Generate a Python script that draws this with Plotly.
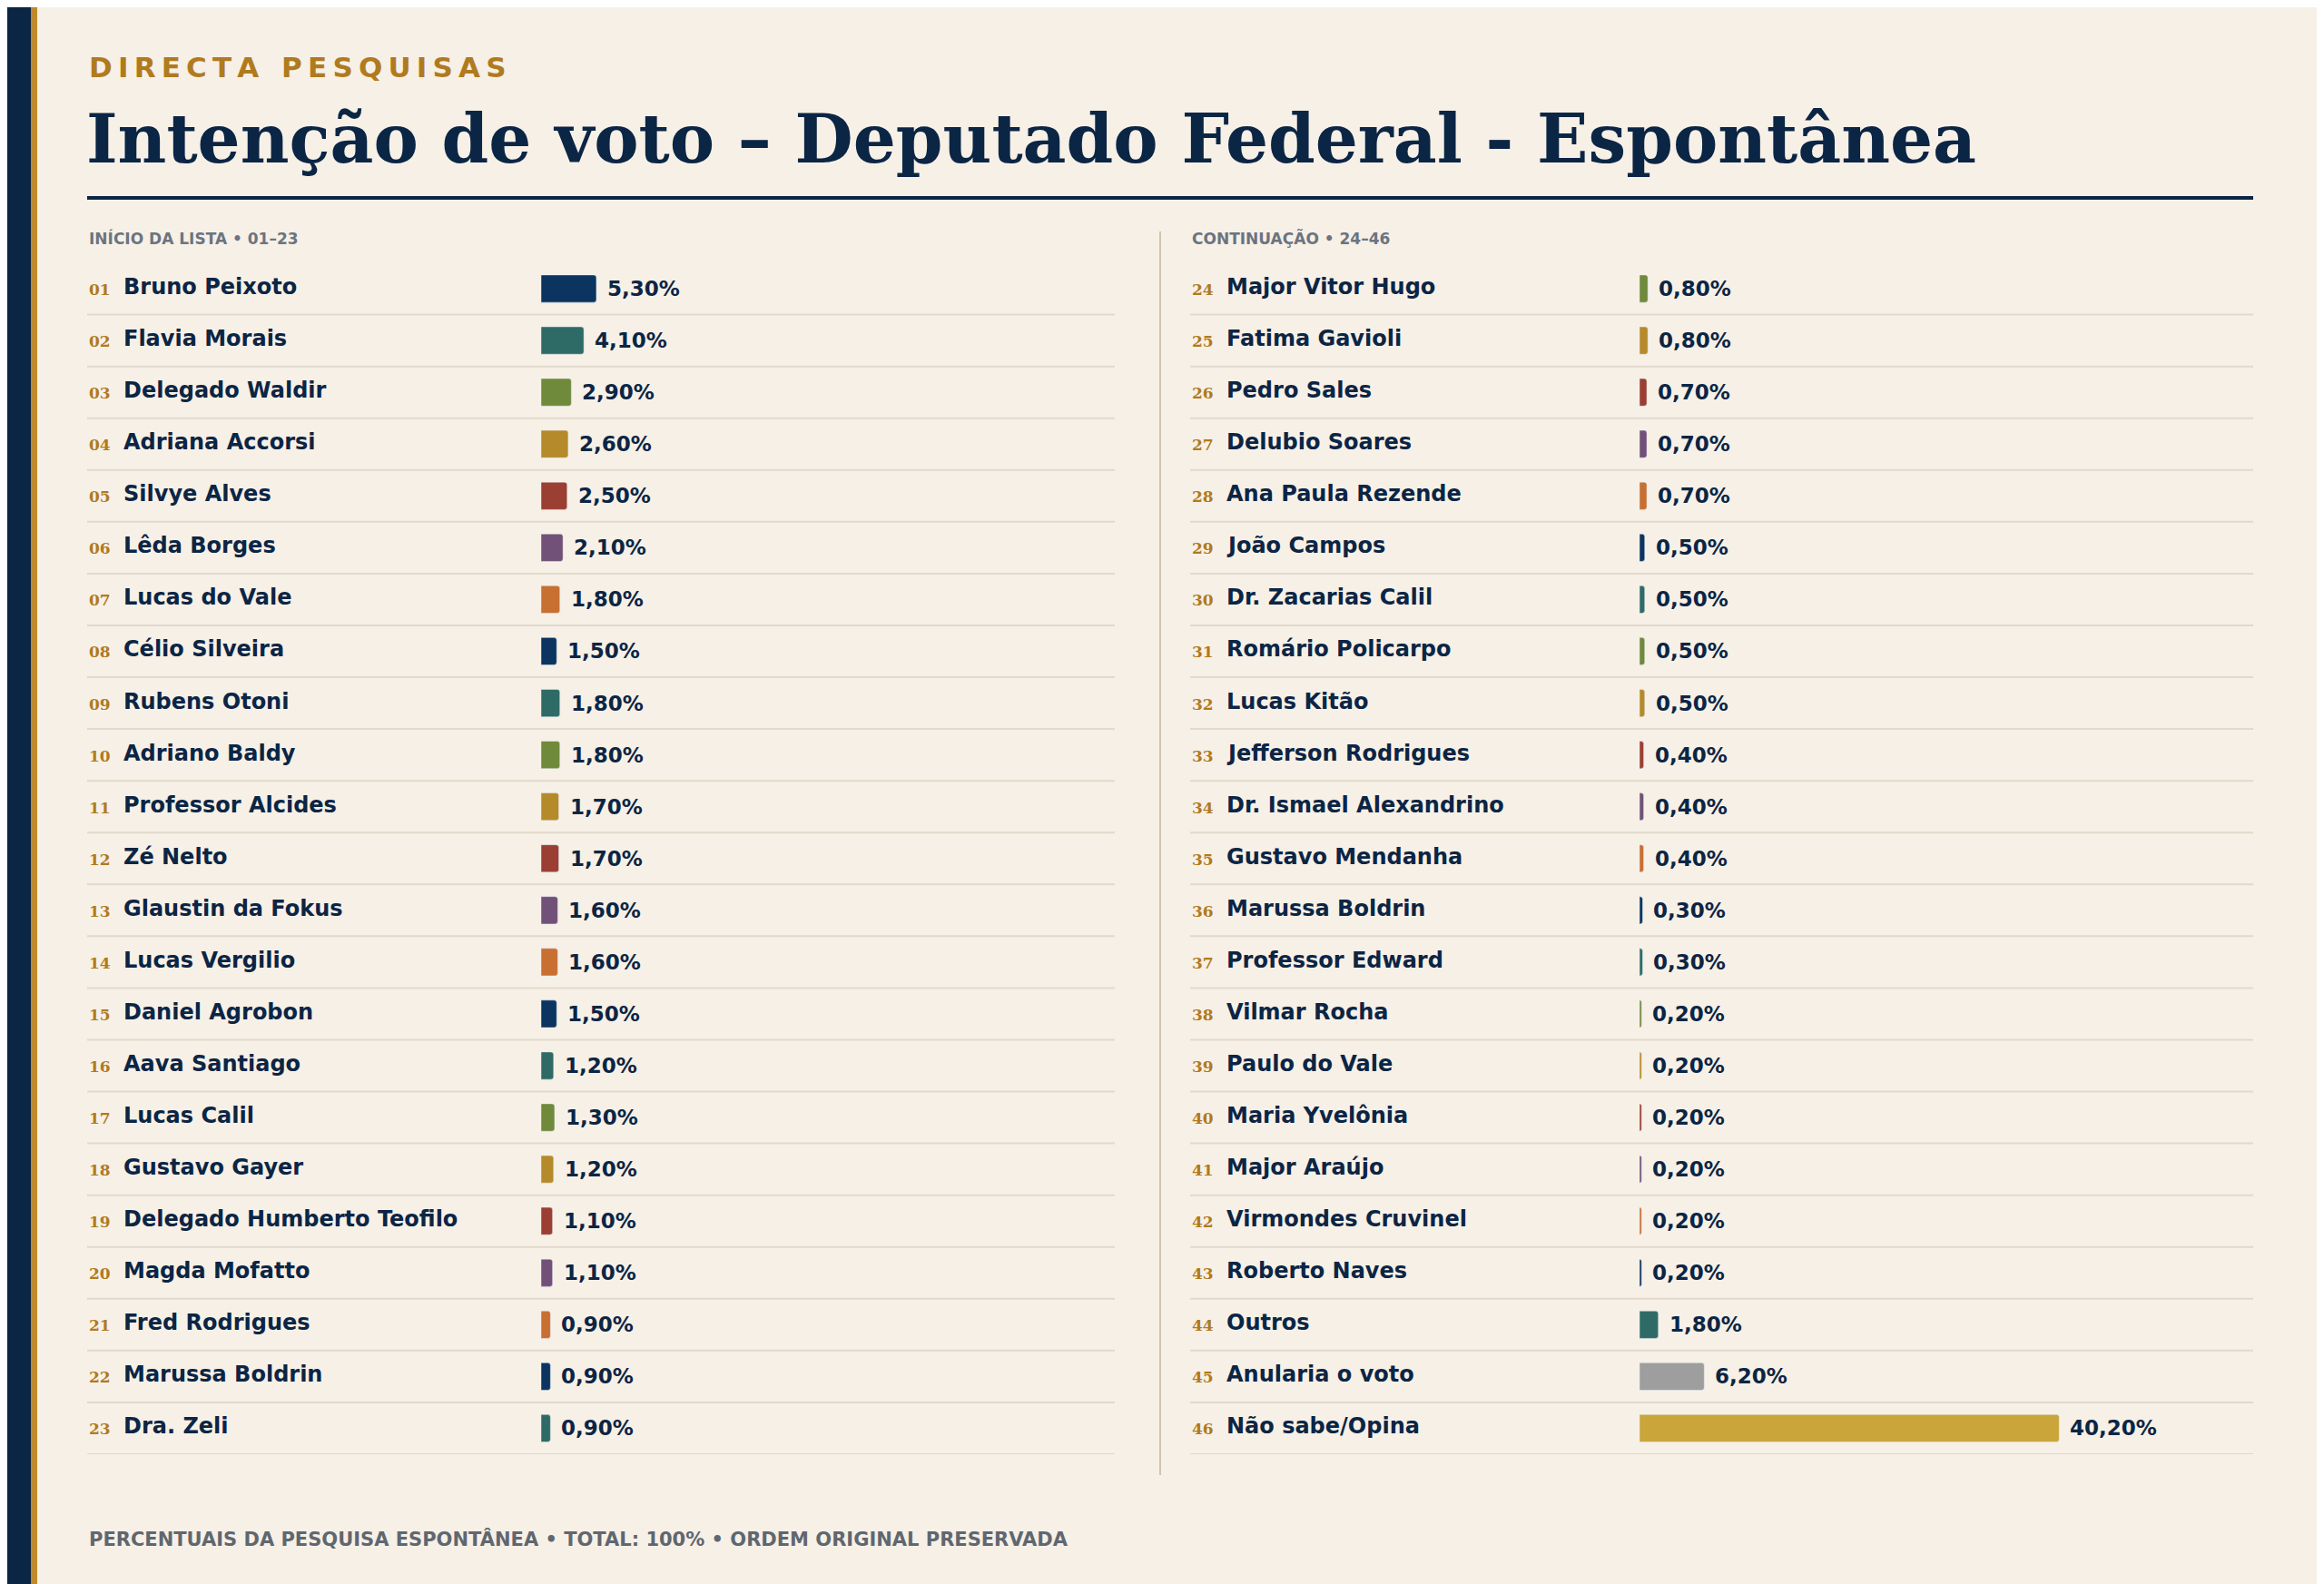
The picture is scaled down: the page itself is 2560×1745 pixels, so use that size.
import plotly.graph_objects as go

W, H = 2560, 1745

left_names = ["Bruno Peixoto", "Flavia Morais", "Delegado Waldir", "Adriana Accorsi", "Silvye Alves",
              "Lêda Borges", "Lucas do Vale", "Célio Silveira", "Rubens Otoni", "Adriano Baldy",
              "Professor Alcides", "Zé Nelto", "Glaustin da Fokus", "Lucas Vergilio", "Daniel Agrobon",
              "Aava Santiago", "Lucas Calil", "Gustavo Gayer", "Delegado Humberto Teofilo", "Magda Mofatto",
              "Fred Rodrigues", "Marussa Boldrin", "Dra. Zeli"]
left_vals = [5.3, 4.1, 2.9, 2.6, 2.5, 2.1, 1.8, 1.5, 1.8, 1.8, 1.7, 1.7, 1.6, 1.6, 1.5,
             1.2, 1.3, 1.2, 1.1, 1.1, 0.9, 0.9, 0.9]
right_names = ["Major Vitor Hugo", "Fatima Gavioli", "Pedro Sales", "Delubio Soares", "Ana Paula Rezende",
               "João Campos", "Dr. Zacarias Calil", "Romário Policarpo", "Lucas Kitão", "Jefferson Rodrigues",
               "Dr. Ismael Alexandrino", "Gustavo Mendanha", "Marussa Boldrin", "Professor Edward",
               "Vilmar Rocha", "Paulo do Vale", "Maria Yvelônia", "Major Araújo", "Virmondes Cruvinel",
               "Roberto Naves", "Outros", "Anularia o voto", "Não sabe/Opina"]
right_vals = [0.8, 0.8, 0.7, 0.7, 0.7, 0.5, 0.5, 0.5, 0.5, 0.4, 0.4, 0.4, 0.3, 0.3,
              0.2, 0.2, 0.2, 0.2, 0.2, 0.2, 1.8, 6.2, 40.2]

palette = ["#0b3560", "#2f6b66", "#6f8a3a", "#b58a2a", "#9b3f33", "#715177", "#c86f32"]
NAVY = "#0b2545"
GOLD = "#b07a1e"
BG = "#f7f0e6"


def colors_for(start, n):
    cols = [palette[(start + i) % 7] for i in range(n)]
    return cols


left_cols = colors_for(0, 23)
right_cols = colors_for(23, 23)
right_cols[21] = "#9e9e9e"
right_cols[22] = "#c9a53a"

rows = list(range(23))
fig = go.Figure()
fig.add_trace(go.Bar(x=left_vals, y=rows, orientation="h", width=0.53,
                     marker=dict(color=left_cols, cornerradius=3), xaxis="x", yaxis="y",
                     hoverinfo="skip"))
fig.add_trace(go.Bar(x=right_vals, y=rows, orientation="h", width=0.53,
                     marker=dict(color=right_cols, cornerradius=3), xaxis="x2", yaxis="y2",
                     hoverinfo="skip"))

top, bottom = 281.5, 1594
ydom = [1 - bottom / H, 1 - top / H]
ax = dict(showgrid=False, zeroline=False, showticklabels=False, fixedrange=True)
fig.update_layout(
    width=W, height=H, margin=dict(l=0, r=0, t=0, b=0),
    paper_bgcolor=BG, plot_bgcolor="rgba(0,0,0,0)", showlegend=False, barmode="overlay",
    xaxis=dict(domain=[588 / W, 1220 / W], range=[0, 632 / 11.5], **ax),
    xaxis2=dict(domain=[1798 / W, 2474 / W], range=[0, 676 / 11.5], **ax),
    yaxis=dict(domain=ydom, range=[22.5, -0.5], **ax),
    yaxis2=dict(domain=ydom, range=[22.5, -0.5], anchor="x2", **ax),
)

ann = []
shapes = []
sans = "DejaVu Sans"
serif = "DejaVu Serif"


def pct(v):
    return f"{v:.2f}".replace(".", ",") + "%"


for side, names, vals, x0, x1, first, xr, yr in [
    ("L", left_names, left_vals, 88, 1220, 1, "x", "y"),
    ("R", right_names, right_vals, 1303, 2474, 24, "x2", "y2"),
]:
    for i, (nm, v) in enumerate(zip(names, vals)):
        ann.append(dict(x=x0 / W, xref="paper", y=i, yref=yr, text=f"{first + i:02d}", showarrow=False,
                        xanchor="left", yanchor="middle", yshift=-1,
                        font=dict(family=serif, size=17, color=GOLD, weight="bold")))
        ann.append(dict(x=(x0 + 38) / W, xref="paper", y=i, yref=yr, text=nm, showarrow=False,
                        xanchor="left", yanchor="middle", yshift=2,
                        font=dict(family=sans, size=24, color=NAVY, weight="bold")))
        ann.append(dict(x=v, xref=xr, y=i, yref=yr, text=pct(v), showarrow=False,
                        xanchor="left", yanchor="middle", xshift=10,
                        font=dict(family=sans, size=23, color=NAVY, weight="bold")))
        shapes.append(dict(type="line", xref="paper", yref=yr, x0=x0 / W, x1=x1 / W,
                           y0=i + 0.5, y1=i + 0.5, line=dict(color="#e2d9cc", width=2)))

# decoration
shapes += [
    dict(type="rect", xref="paper", yref="paper", x0=0, x1=26 / W, y0=0, y1=1,
         fillcolor="#0b2545", line=dict(width=0)),
    dict(type="rect", xref="paper", yref="paper", x0=26 / W, x1=33 / W, y0=0, y1=1,
         fillcolor="#c08a2a", line=dict(width=0)),
    dict(type="line", xref="paper", yref="paper", x0=88 / W, x1=2474 / W, y0=1 - 210 / H, y1=1 - 210 / H,
         line=dict(color=NAVY, width=4)),
    dict(type="line", xref="paper", yref="paper", x0=1270 / W, x1=1270 / W, y0=1 - 247 / H, y1=1 - 1617 / H,
         line=dict(color="#d3c3ae", width=2)),
]

th = "\u2009"
ann += [
    dict(x=88 / W, y=1 - 66 / H, xref="paper", yref="paper", text=th.join("DIRECTA") + th * 4 + th.join("PESQUISAS"),
         showarrow=False, xanchor="left", yanchor="middle",
         font=dict(family=sans, size=31, color=GOLD, weight="bold")),
    dict(x=85 / W, y=1 - 145 / H, xref="paper", yref="paper",
         text="Intenção de voto – Deputado Federal - Espontânea", showarrow=False,
         xanchor="left", yanchor="middle", font=dict(family=serif, size=74, color=NAVY, weight="bold")),
    dict(x=88 / W, y=1 - 254 / H, xref="paper", yref="paper", text="INÍCIO DA LISTA • 01–23",
         showarrow=False, xanchor="left", yanchor="middle",
         font=dict(family=sans, size=17, color="#6b7480", weight="bold")),
    dict(x=1303 / W, y=1 - 254 / H, xref="paper", yref="paper", text="CONTINUAÇÃO • 24–46",
         showarrow=False, xanchor="left", yanchor="middle",
         font=dict(family=sans, size=17, color="#6b7480", weight="bold")),
    dict(x=88 / W, y=1 - 1687 / H, xref="paper", yref="paper",
         text="PERCENTUAIS DA PESQUISA ESPONTÂNEA • TOTAL: 100% • ORDEM ORIGINAL PRESERVADA",
         showarrow=False, xanchor="left", yanchor="middle",
         font=dict(family=sans, size=21, color="#5f6770", weight="bold")),
]

fig.update_layout(annotations=ann, shapes=shapes)
fig.write_html("out.html")
